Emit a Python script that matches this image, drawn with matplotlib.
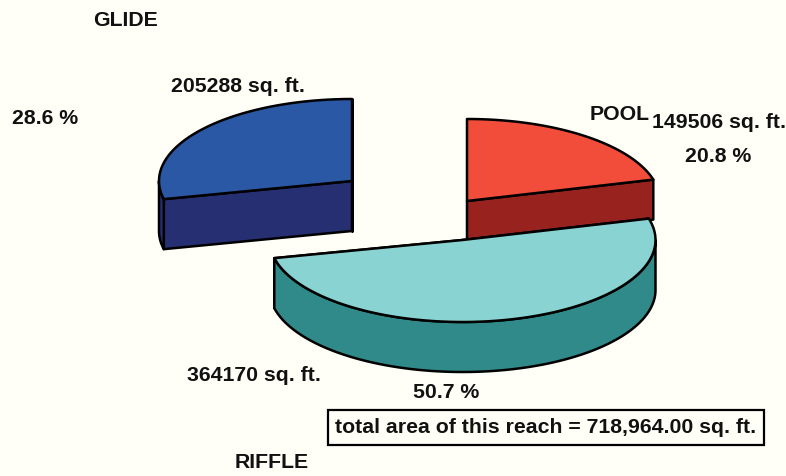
import numpy as np
import matplotlib
matplotlib.use("Agg")
import matplotlib.pyplot as plt
from matplotlib.patches import Polygon

categories = ["POOL", "RIFFLE", "GLIDE"]
areas = [149506, 364170, 205288]
percents = [20.8, 50.7, 28.6]
total_label = "total area of this reach = 718,964.00 sq. ft."

BG = "#FFFFF8"
top_colors = ["#F24C3A", "#8AD3D3", "#2A58A5"]
side_colors = ["#98231E", "#318A8A", "#252F72"]
centers = [(467, 202), (462.5, 241), (352, 182)]
depths = [40, 50, 50]
A, B = 193, 82

plt.rcParams["font.family"] = ["Liberation Sans", "DejaVu Sans"]
fig = plt.figure(figsize=(7.86, 4.77), dpi=100, facecolor=BG)
ax = fig.add_axes([0, 0, 1, 1])
ax.set_xlim(0, 786); ax.set_ylim(477, 0); ax.axis("off")

def rim(c, t0, t1, dy=0):
    t = np.linspace(t0, t1, 160)
    return np.c_[c[0] + A*np.sin(t), c[1] + dy - B*np.cos(t)]

fr = np.cumsum([0] + areas) / sum(areas) * 2*np.pi
kw = dict(edgecolor="black", linewidth=1.8, joinstyle="round")

def wedge(i, z):
    c, d = centers[i], depths[i]
    t0, t1 = fr[i], fr[i+1]
    for t in (t0, t1):
        p = rim(c, t, t)[0]
        ax.add_patch(Polygon([c, p, p+[0, d], [c[0], c[1]+d]], facecolor=side_colors[i], zorder=z, **kw))
    a0, a1 = max(t0, np.pi/2), min(t1, 3*np.pi/2)
    if a1 > a0:
        up = rim(c, a0, a1); low = rim(c, a1, a0, d)
        ax.add_patch(Polygon(np.r_[up, low], facecolor=side_colors[i], zorder=z+.1, **kw))
    ax.add_patch(Polygon(np.r_[[c], rim(c, t0, t1)], facecolor=top_colors[i], zorder=z+.2, **kw))

wedge(0, 2); wedge(2, 3); wedge(1, 4)

fs = 15.3
def label(x, y, s):
    ax.text(x, y, s, fontsize=fs, fontweight="bold", color="#111111", ha="left", va="center", zorder=6)

label(93, 20, categories[2])
label(171, 86, f"{areas[2]} sq. ft.")
label(12, 118, f"{percents[2]} %")
label(590, 115, categories[0])
label(652, 123, f"{areas[0]} sq. ft.")
label(685, 157, f"{percents[0]} %")
label(187, 376, f"{areas[1]} sq. ft.")
label(413, 393, f"{percents[1]} %")
label(235, 463, categories[1])
label(335, 428, total_label)
ax.add_patch(plt.Rectangle((328, 411), 436, 34.5, facecolor="none", edgecolor="black", linewidth=1.6, zorder=6))

fig.savefig("out.png", dpi=100, facecolor=BG)
